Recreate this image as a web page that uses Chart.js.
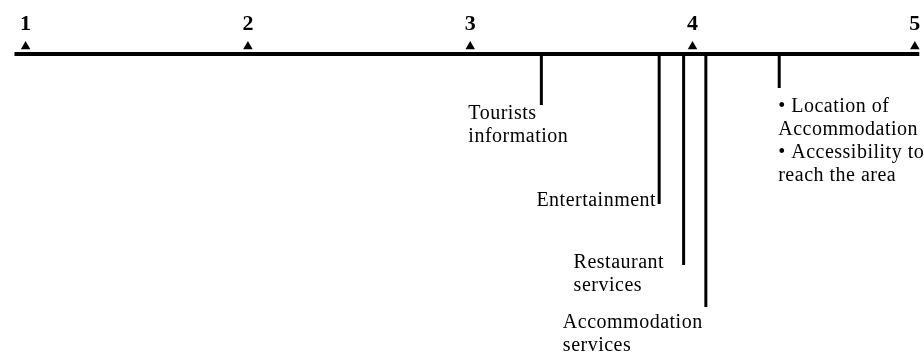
<!DOCTYPE html>
<html>
<head>
<meta charset="utf-8">
<script src="https://cdn.jsdelivr.net/npm/chart.js@4.4.1/dist/chart.umd.min.js"></script>
<style>
  body { margin: 0; background: #fff; }
  #chart { display: block; }
</style>
</head>
<body>
<canvas id="chart" width="924" height="355"></canvas>
<script>
// scale 1..5 and the mean scores of each factor
const scaleTicks = [1, 2, 3, 4, 5];
const tickLabels = ["1", "2", "3", "4", "5"];
const factorNames = [
  ["Tourists", "information"],
  ["Entertainment"],
  ["Restaurant", "services"],
  ["Accommodation", "services"],
  ["\u2022 Location of", "Accommodation", "\u2022 Accessibility to", "reach the area"],
];
const factorScores = [3.32, 3.85, 3.96, 4.06, 4.39];

// layout only (pixels below the axis line, label offsets)
const dropDepth = [51, 150, 211, 253, 34];
const labelSpots = [
  { dx: -73, depth: 60, align: "left" },
  { dx: -3, depth: 147, align: "right" },
  { dx: -110, depth: 209, align: "left" },
  { dx: -143, depth: 269, align: "left" },
  { dx: -1, depth: 53, align: "left" },
];
const axisY = 54; // pixel row of the main line
const ink = "#000";
const serif = "'Liberation Serif', 'Times New Roman', serif";

const datasets = [];

// main axis line
datasets.push({
  data: [
    { x: scaleTicks[0] - 0.05, y: 0 },
    { x: scaleTicks[scaleTicks.length - 1] + 0.02, y: 0 },
  ],
  showLine: true,
  borderColor: ink,
  borderWidth: 4,
  pointRadius: 0,
});

// triangle markers
datasets.push({
  data: scaleTicks.map((t) => ({ x: t, y: 7.5 })),
  pointStyle: "triangle",
  pointRadius: 5.5,
  backgroundColor: ink,
  borderWidth: 0,
});

// drop lines
factorScores.forEach((v, i) => {
  datasets.push({
    data: [
      { x: v, y: 0 },
      { x: v, y: -dropDepth[i] },
    ],
    showLine: true,
    borderColor: ink,
    borderWidth: 3,
    pointRadius: 0,
  });
});

const labelPlugin = {
  id: "labels",
  afterDatasetsDraw(chart) {
    const ctx = chart.ctx;
    const xs = chart.scales.x;
    const ys = chart.scales.y;
    ctx.save();
    ctx.fillStyle = ink;
    ctx.textBaseline = "middle";

    // tick numbers
    ctx.font = "bold 22px " + serif;
    ctx.textAlign = "center";
    scaleTicks.forEach((t, i) => {
      ctx.fillText(tickLabels[i], xs.getPixelForValue(t), ys.getPixelForValue(30));
    });

    // factor labels
    ctx.font = "20px " + serif;
    ctx.letterSpacing = "0.5px";
    factorScores.forEach((v, i) => {
      const spot = labelSpots[i];
      ctx.textAlign = spot.align;
      const x = xs.getPixelForValue(v) + spot.dx;
      factorNames[i].forEach((line, j) => {
        ctx.fillText(line, x, ys.getPixelForValue(-spot.depth) + j * 23);
      });
    });
    ctx.restore();
  },
};

function draw() {
  const ctx = document.getElementById("chart").getContext("2d");
  new Chart(ctx, {
    type: "scatter",
    data: { datasets: datasets },
    options: {
      responsive: false,
      animation: false,
      devicePixelRatio: 1,
      layout: { padding: 0, autoPadding: false },
      plugins: { legend: { display: false }, tooltip: { enabled: false } },
      scales: {
        x: { type: "linear", display: false, min: 0.8848, max: 5.0413 },
        y: { type: "linear", display: false, min: axisY - 355, max: axisY },
      },
      elements: { point: { hoverRadius: 0 } },
    },
    plugins: [labelPlugin],
  });
}

Promise.all([
  document.fonts.load("20px 'Liberation Serif'"),
  document.fonts.load("bold 22px 'Liberation Serif'"),
]).then(draw, draw);
</script>
</body>
</html>
